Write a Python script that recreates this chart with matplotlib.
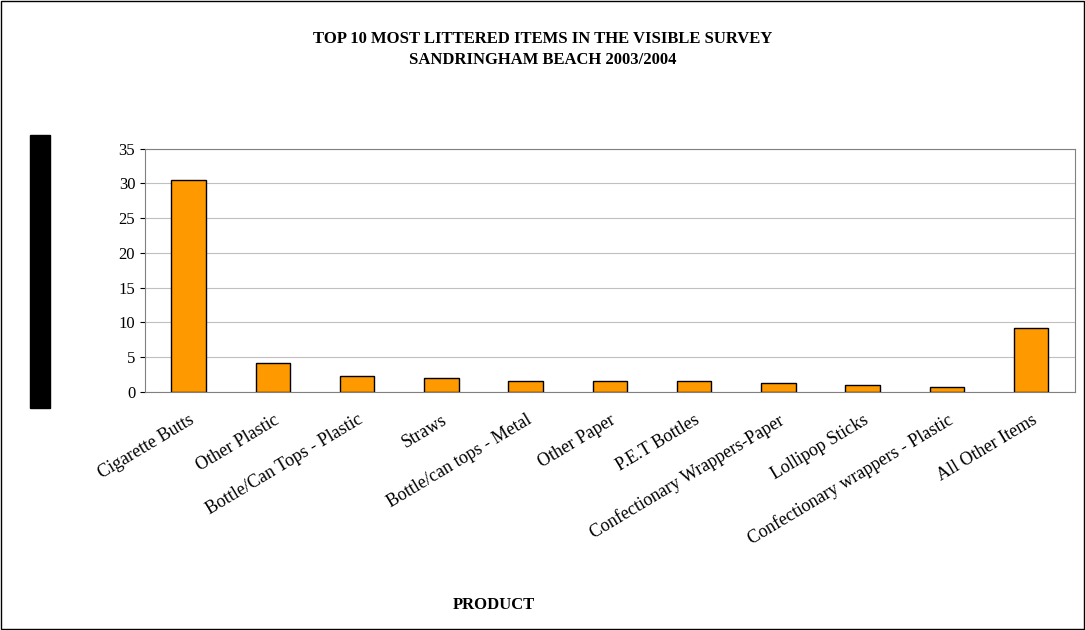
import matplotlib
matplotlib.use("Agg")
import matplotlib.pyplot as plt
from matplotlib.patches import Rectangle

categories = ["Cigarette Butts", "Other Plastic", "Bottle/Can Tops - Plastic", "Straws",
              "Bottle/can tops - Metal", "Other Paper", "P.E.T Bottles",
              "Confectionary Wrappers-Paper", "Lollipop Sticks",
              "Confectionary wrappers - Plastic", "All Other Items"]
values = [30.5, 4.2, 2.3, 2.0, 1.5, 1.5, 1.5, 1.3, 1.0, 0.7, 9.2]

plt.rcParams["font.family"] = ["Liberation Serif", "DejaVu Serif"]
fig = plt.figure(figsize=(10.85, 6.3), dpi=100)
ax = fig.add_axes([0.1336, 0.378, 0.857, 0.386])

x = list(range(len(categories)))
ax.bar(x, values, width=0.41, color="#ff9900", edgecolor="black", linewidth=1, zorder=3)
ax.set_xlim(-0.52, len(categories) - 0.48)
ax.set_ylim(0, 35)
ax.set_yticks(range(0, 36, 5))
ax.grid(axis="y", color="#c0c0c0", linewidth=0.8, zorder=0)
ax.set_xticks(x)
ax.set_xticklabels(categories, rotation=31, ha="right", rotation_mode="anchor", fontsize=13)
ax.tick_params(axis="y", labelsize=12)
ax.tick_params(axis="x", length=0, pad=14)
for s in ax.spines.values():
    s.set_color("#808080")

fig.text(0.5, 0.922, "TOP 10 MOST LITTERED ITEMS IN THE VISIBLE SURVEY\nSANDRINGHAM BEACH 2003/2004",
         ha="center", va="center", fontsize=12, fontweight="bold", linespacing=1.4)
fig.text(0.455, 0.04, "PRODUCT", ha="center", va="center", fontsize=12, fontweight="bold")
fig.patches.append(Rectangle((30 / 1085, 1 - 408 / 630), 20 / 1085, 273 / 630,
                             transform=fig.transFigure, color="black", figure=fig))
fig.patches.append(Rectangle((0.001, 0.001), 0.998, 0.998, transform=fig.transFigure,
                             fill=False, edgecolor="black", linewidth=1, figure=fig))
fig.savefig("out.png", dpi=100)
